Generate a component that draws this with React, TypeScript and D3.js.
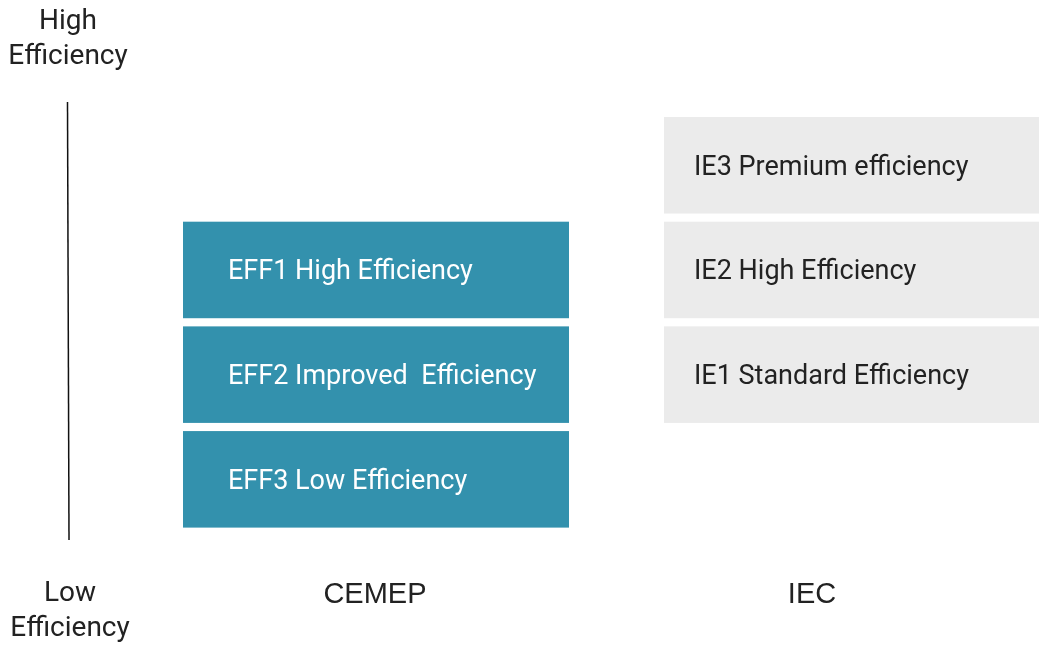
import React, { useEffect, useRef } from "react";
import * as d3 from "d3";

// efficiency levels, top (highest) to bottom
const levels = ["L4", "L3", "L2", "L1"];

const groups = ["CEMEP", "IEC"];

const cemepClasses = [
  { level: "L3", label: "EFF1 High Efficiency" },
  { level: "L2", label: "EFF2 Improved  Efficiency" },
  { level: "L1", label: "EFF3 Low Efficiency" },
];

const iecClasses = [
  { level: "L4", label: "IE3 Premium efficiency" },
  { level: "L3", label: "IE2 High Efficiency" },
  { level: "L2", label: "IE1 Standard Efficiency" },
];

const App = () => {
  const svgRef = useRef<SVGSVGElement>(null);

  useEffect(() => {
    const width = 1039;
    const height = 646;

    const svg = d3.select(svgRef.current);
    svg.selectAll("*").remove();
    svg.attr("width", width).attr("height", height);

    // vertical placement of each efficiency level
    const yScale = d3
      .scaleBand()
      .domain(levels)
      .range([117, 527.6])
      .paddingInner(0.078)
      .paddingOuter(0);

    // horizontal placement of each scheme column
    const xScale = d3
      .scaleOrdinal<string, [number, number]>()
      .domain(groups)
      .range([
        [183, 569],
        [664, 1039],
      ]);

    // title positions under each column
    const titleX = d3.scaleOrdinal<string, number>().domain(groups).range([375, 812]);

    const boxFont = "Roboto, 'Noto Sans', sans-serif";

    const drawColumn = (
      group: string,
      items: { level: string; label: string }[],
      fill: string,
      textColor: string,
      textOffset: number
    ) => {
      const [x0, x1] = xScale(group);
      const g = svg.append("g");
      g.selectAll("rect")
        .data(items)
        .join("rect")
        .attr("x", x0)
        .attr("y", (d) => yScale(d.level)!)
        .attr("width", x1 - x0)
        .attr("height", yScale.bandwidth())
        .attr("fill", fill);
      g.selectAll("text")
        .data(items)
        .join("text")
        .attr("x", x0 + textOffset)
        .attr("y", (d) => yScale(d.level)! + yScale.bandwidth() / 2)
        .attr("dy", "0.35em")
        .attr("fill", textColor)
        .attr("font-family", boxFont)
        .attr("font-size", 27)
        .style("white-space", "pre")
        .text((d) => d.label);
    };

    drawColumn("CEMEP", cemepClasses, "#3391ad", "#ffffff", 45);
    drawColumn("IEC", iecClasses, "#ebebeb", "#222222", 30);

    // column titles
    svg
      .append("g")
      .selectAll("text")
      .data(groups)
      .join("text")
      .attr("x", (d) => titleX(d))
      .attr("y", 603)
      .attr("text-anchor", "middle")
      .attr("fill", "#222")
      .attr("font-family", "'Liberation Sans', Arial, sans-serif")
      .attr("font-size", 29)
      .text((d) => d);

    // efficiency arrow line
    svg
      .append("line")
      .attr("x1", 67.5)
      .attr("y1", 102)
      .attr("x2", 69)
      .attr("y2", 540)
      .attr("stroke", "#111")
      .attr("stroke-width", 1.5);

    const axisLabel = (lines: string[], cx: number, y0: number) => {
      svg
        .append("g")
        .selectAll("text")
        .data(lines)
        .join("text")
        .attr("x", cx)
        .attr("y", (_, i) => y0 + i * 35)
        .attr("text-anchor", "middle")
        .attr("fill", "#222")
        .attr("font-family", boxFont)
        .attr("font-size", 28)
        .text((d) => d);
    };

    axisLabel(["High", "Efficiency"], 68, 29);
    axisLabel(["Low", "Efficiency"], 70, 601);
  }, []);

  return (
    <div style={{ position: "fixed", left: 0, top: 0, width: 1039, height: 646, overflow: "hidden" }}>
      <svg ref={svgRef} style={{ display: "block" }}></svg>
    </div>
  );
};

export default App;
